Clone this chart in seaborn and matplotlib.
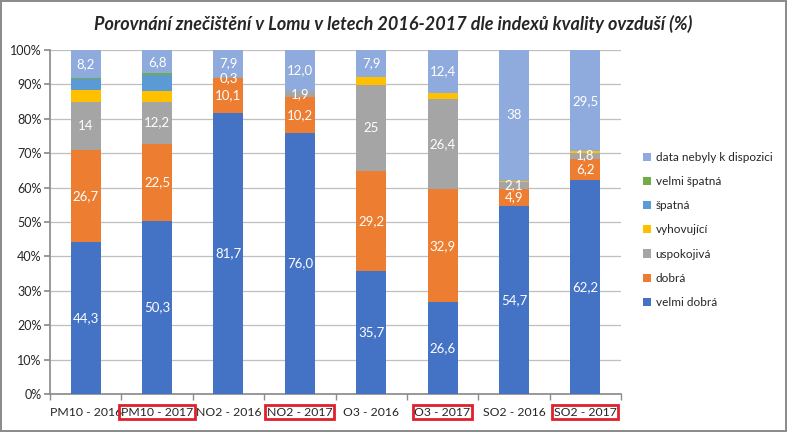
import matplotlib
matplotlib.use("Agg")
import matplotlib.pyplot as plt
import seaborn as sns
import numpy as np
from matplotlib.patches import Patch

categories = ["PM10 - 2016", "PM10 - 2017", "NO2 - 2016", "NO2 - 2017",
              "O3 - 2016", "O3 - 2017", "SO2 - 2016", "SO2 - 2017"]
highlighted = [False, True, False, True, False, True, False, True]

velmi_dobra = [44.3, 50.3, 81.7, 76.0, 35.7, 26.6, 54.7, 62.2]
dobra = [26.7, 22.5, 10.1, 10.2, 29.2, 32.9, 4.9, 6.2]
uspokojiva = [14.0, 12.2, 0.3, 1.9, 25.0, 26.4, 2.1, 1.8]
vyhovujici = [3.4, 3.0, 0.0, 0.0, 2.2, 1.7, 0.3, 0.3]
spatna = [3.1, 4.8, 0.0, 0.0, 0.0, 0.0, 0.0, 0.0]
velmi_spatna = [0.3, 0.4, 0.0, 0.0, 0.0, 0.0, 0.0, 0.0]
data_nebyly = [8.2, 6.8, 7.9, 12.0, 7.9, 12.4, 38.0, 29.5]

lbl_velmi_dobra = ["44,3", "50,3", "81,7", "76,0", "35,7", "26,6", "54,7", "62,2"]
lbl_dobra = ["26,7", "22,5", "10,1", "10,2", "29,2", "32,9", "4,9", "6,2"]
lbl_uspokojiva = ["14", "12,2", "0,3", "1,9", "25", "26,4", "2,1", "1,8"]
lbl_data_nebyly = ["8,2", "6,8", "7,9", "12,0", "7,9", "12,4", "38", "29,5"]

series = [
    ("velmi dobrá", velmi_dobra, "#4472C4", lbl_velmi_dobra),
    ("dobrá", dobra, "#ED7D31", lbl_dobra),
    ("uspokojivá", uspokojiva, "#A5A5A5", lbl_uspokojiva),
    ("vyhovující", vyhovujici, "#FFC000", None),
    ("špatná", spatna, "#5B9BD5", None),
    ("velmi špatná", velmi_spatna, "#70AD47", None),
    ("data nebyly k dispozici", data_nebyly, "#8FAADC", lbl_data_nebyly),
]

sns.set_theme(style="white")
plt.rcParams["font.family"] = ["Lato", "DejaVu Sans"]

fig = plt.figure(figsize=(7.87, 4.32), dpi=100)
fig.patch.set_edgecolor("#8C8C8C")
fig.patch.set_linewidth(1.5)
ax = fig.add_axes([50 / 787, 1 - 394 / 432, (621 - 50) / 787, (394 - 50) / 432])

bottom = np.zeros(len(categories))
for name, vals, col, lbls in series:
    vals = np.array(vals, dtype=float)
    sns.barplot(x=categories, y=vals, bottom=bottom, color=col, width=0.42,
                ax=ax, saturation=1, linewidth=0, zorder=3)
    if lbls is not None:
        for i, (v, t) in enumerate(zip(vals, lbls)):
            ax.text(i, bottom[i] + v / 2, t, ha="center", va="center",
                    color="white", fontsize=9.5, zorder=5)
    bottom = bottom + vals

ax.set_xlim(-0.5, len(categories) - 0.5)
ax.set_ylim(0, 100)
ax.set_yticks(np.arange(0, 101, 10))
ax.set_yticklabels([f"{v}%" for v in range(0, 101, 10)], fontsize=9)
ax.yaxis.grid(True, color="#BFBFBF", linewidth=0.9, zorder=0)
ax.set_axisbelow(True)
for s in ["top", "right"]:
    ax.spines[s].set_visible(False)
ax.spines["left"].set_color("#8C8C8C")
ax.spines["bottom"].set_color("#8C8C8C")
ax.tick_params(axis="y", length=4, color="#8C8C8C", pad=2, direction="out", left=True)
ax.tick_params(axis="x", length=0, pad=9)
ax.set_xticks(np.arange(-0.5, len(categories), 1), minor=True)
ax.tick_params(axis="x", which="minor", length=4, color="#8C8C8C", bottom=True)
ax.set_xticks(range(len(categories)))
ax.set_xticklabels(categories, fontsize=8.8)
for lab, hl in zip(ax.get_xticklabels(), highlighted):
    if hl:
        lab.set_bbox(dict(facecolor="none", edgecolor="#E0202A", linewidth=2, pad=1.2))
ax.set_xlabel("")
ax.set_ylabel("")

fig.text(0.5, 0.945, "Porovnání znečištění v Lomu v letech 2016-2017 dle indexů kvality ovzduší (%)",
         ha="center", va="center", fontsize=13, fontweight="bold", fontstyle="italic")

handles = [Patch(facecolor=col, edgecolor="none", label=name)
           for name, vals, col, lbls in reversed(series)]
fig.legend(handles=handles, loc="center left", bbox_to_anchor=(638 / 787, 1 - 230 / 432),
           frameon=False, fontsize=8.5, handlelength=0.7, handleheight=0.7,
           handletextpad=0.4, labelspacing=1.12, borderaxespad=0)

fig.savefig("out.png", dpi=100)
